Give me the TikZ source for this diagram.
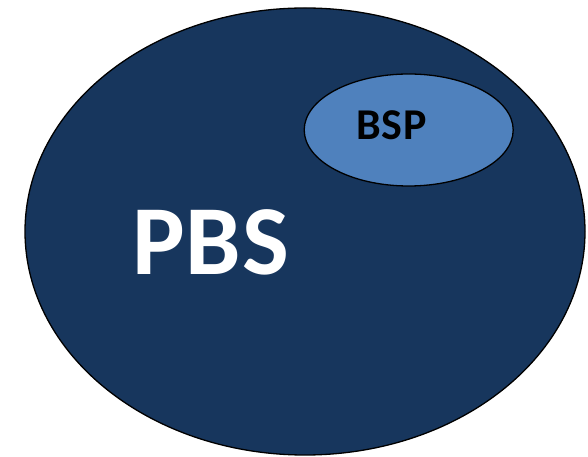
\documentclass[tikz,border=0pt]{standalone}
\usepackage{fontspec}
\setmainfont{Carlito}
\definecolor{pbsblue}{HTML}{17365D}
\definecolor{bspblue}{HTML}{4F81BD}
\begin{document}
\begin{tikzpicture}[x=1pt,y=1pt,
  outer/.style={draw=black,line width=1.3pt,fill=pbsblue},
  inner/.style={draw=black,line width=1.3pt,fill=bspblue}]
\useasboundingbox (0,0) rectangle (588,457);
\fill[outer] (305,225.5) ellipse [x radius=280,y radius=223.5];
\coordinate (pbsc) at (305,225.5);
\fill[inner] (408.7,327) ellipse [x radius=104.5,y radius=56];
\coordinate (bspc) at (408.7,327);
\node[anchor=base,inner sep=0pt,text=white,font=\fontsize{99}{99}\selectfont\bfseries] (pbs) at (210.5,182) {P\kern1ptB\kern1ptS};
\node[anchor=base,inner sep=0pt,text=black,font=\fontsize{44}{44}\selectfont\bfseries] (bsp) at (391.7,317.7) {B\kern0.5ptS\kern0.5ptP};
\end{tikzpicture}
\end{document}
